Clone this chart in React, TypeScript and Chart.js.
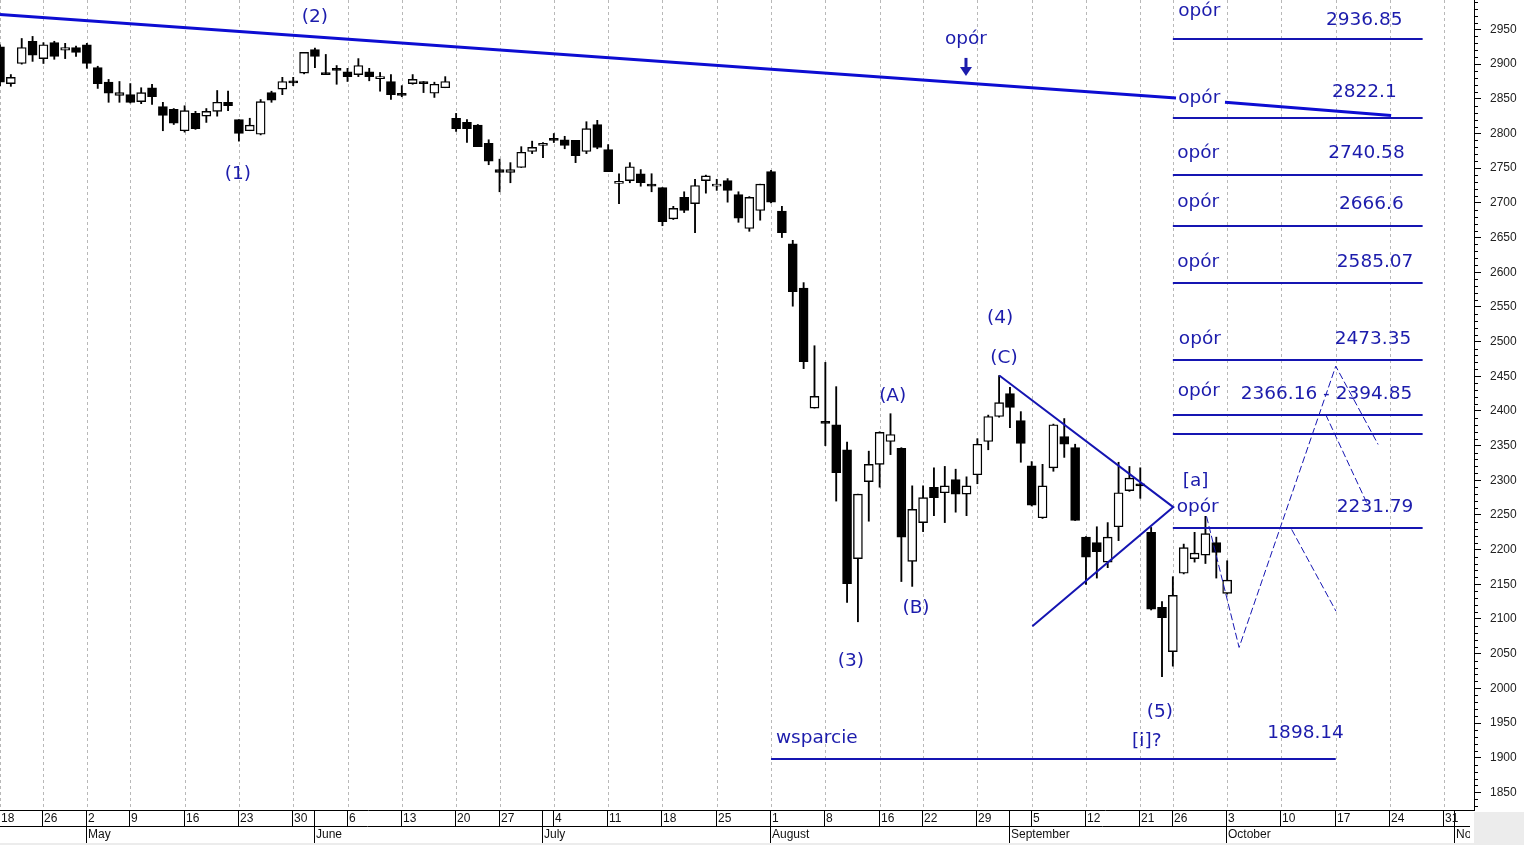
import React, { useEffect, useRef } from 'react';
import { Chart, registerables } from 'chart.js';

Chart.register(...registerables);

// ---- data (trading-day index 0 = 18 April) ----
const opens = [2925,2872,2901,2933,2908,2931,2920,2924,2928,2895,2874,2855,2856,2846,2866,2839,2835,2804,2829,2825,2832,2845,2820,2804,2799,2859,2864,2876,2887,2921,2888,2894,2889,2885,2889,2879,2875,2858,2872,2875,2858,2866,2822,2816,2812,2786,2748,2744,2751,2774,2783,2793,2791,2790,2774,2813,2777,2728,2732,2742,2727,2722,2677,2708,2699,2732,2724,2732,2712,2663,2689,2745,2688,2641,2577,2404,2385,2380,2344,2187,2298,2323,2356,2346,2183,2239,2290,2282,2301,2280,2308,2356,2392,2425,2386,2321,2246,2318,2363,2347,2218,2210,2182,2233,2285,2295,2225,2117,2053,2166,2187,2192,2210,2137];
const highs = [2928,2885,2937,2940,2931,2933,2930,2926,2930,2897,2878,2875,2872,2866,2871,2845,2836,2840,2832,2836,2862,2861,2820,2822,2849,2861,2881,2881,2917,2923,2914,2898,2894,2908,2894,2888,2885,2869,2885,2875,2874,2882,2829,2820,2813,2791,2763,2758,2781,2789,2787,2800,2796,2790,2817,2819,2784,2742,2758,2748,2742,2722,2695,2716,2734,2740,2734,2735,2716,2709,2727,2747,2695,2646,2585,2494,2470,2435,2355,2280,2342,2370,2396,2347,2292,2292,2318,2320,2316,2305,2360,2394,2451,2434,2399,2327,2323,2381,2389,2352,2219,2233,2239,2326,2320,2318,2232,2125,2161,2208,2225,2248,2218,2184];
const lows = [2869,2868,2900,2904,2901,2907,2908,2911,2894,2865,2845,2845,2844,2843,2842,2804,2813,2802,2806,2816,2825,2833,2789,2804,2798,2845,2856,2869,2886,2895,2886,2871,2875,2882,2876,2861,2849,2853,2871,2859,2852,2866,2803,2787,2781,2755,2716,2729,2751,2771,2765,2787,2778,2758,2771,2778,2745,2699,2729,2724,2716,2667,2676,2686,2657,2714,2718,2701,2672,2659,2675,2700,2650,2551,2461,2404,2350,2270,2124,2096,2241,2290,2337,2154,2147,2226,2249,2239,2254,2249,2295,2344,2391,2376,2326,2263,2245,2313,2333,2242,2150,2159,2174,2213,2284,2274,2113,2017,2032,2165,2182,2180,2159,2136];
const closes = [2874,2881,2924,2913,2928,2911,2924,2917,2901,2872,2858,2859,2845,2859,2853,2826,2815,2833,2807,2832,2845,2840,2800,2812,2846,2848,2875,2873,2917,2911,2885,2891,2882,2898,2882,2882,2856,2855,2878,2872,2871,2875,2807,2807,2781,2760,2744,2748,2773,2780,2786,2790,2783,2768,2807,2780,2745,2731,2752,2729,2724,2673,2692,2689,2725,2739,2727,2718,2678,2708,2727,2701,2657,2572,2471,2421,2382,2311,2151,2280,2323,2369,2366,2218,2258,2275,2275,2292,2280,2292,2352,2392,2412,2405,2353,2264,2292,2380,2352,2242,2189,2197,2218,2282,2303,2292,2114,2102,2134,2203,2195,2223,2196,2156];

// x-axis labels
const weekTickIdx = [0,4,8,12,17,22,27,32,37,42,46,51,56,61,66,71,76,81,85,90,95,100,105,108,113,118,123,128,133];
const weekTickLabels = ['18','26','2','9','16','23','30','6','13','20','27','4','11','18','25','1','8','16','22','29','5','12','21','26','3','10','17','24','31'];
const monthIdx = [8,29,50,71,93,113,134];
const monthLabels = ['May','June','July','August','September','October','November'];

// y-axis ticks
const yTicks = [1850,1900,1950,2000,2050,2100,2150,2200,2250,2300,2350,2400,2450,2500,2550,2600,2650,2700,2750,2800,2850,2900,2950];
const Y_MAX = 2992.5;
const Y_MIN = 1824.6;
const X_MAX = 135.73;

// levels
const resistanceLevels = [2936.85, 2822.1, 2740.58, 2666.6, 2585.07, 2473.35, 2394.85, 2366.16, 2231.79];
const supportLevel = 1898.14;
const levelStartIdx = 108.0;
const levelEndIdx = 131.0;
const supportStartIdx = 71.0;
const supportEndIdx = 123.0;

// trend lines [idx, value]
const trendLineA = [[0, 2971.6], [108.29, 2851.2]];
const trendLineB = [[112.8, 2845.2], [128.1, 2826.0]];
const triangle = [[95.06, 2089.7], [108.04, 2261.3], [92.02, 2451.1]];
const projMain = [[111.1, 2248], [114.1, 2059], [123.0, 2464.5], [126.9, 2351.7]];
const projAlt1 = [[122.07, 2394.9], [125.85, 2267.6]];
const projAlt2 = [[118.94, 2229.1], [123.02, 2111.3]];
const arrowAt = [88.95, 2909, 2883];

// text annotations: [text, idx, value, align]
const texts: [string, number, number, CanvasTextAlign][] = [
  ['(2)', 29.0, 2967, 'center'],
  ['(1)', 21.9, 2741, 'center'],
  ['opór', 88.95, 2936, 'center'],
  ['(4)', 92.1, 2533, 'center'],
  ['(C)', 92.45, 2476, 'center'],
  ['(A)', 82.2, 2421, 'center'],
  ['(B)', 84.35, 2115, 'center'],
  ['(3)', 78.35, 2039, 'center'],
  ['(5)', 106.8, 1966, 'center'],
  ['[i]?', 105.6, 1924, 'center'],
  ['wsparcie', 71.45, 1928, 'left'],
  ['1898.14', 116.7, 1935, 'left'],
  ['[a]', 110.1, 2298, 'center'],
  ['opór', 108.5, 2977, 'left'],
  ['opór', 108.5, 2851, 'left'],
  ['opór', 108.4, 2772, 'left'],
  ['opór', 108.4, 2701, 'left'],
  ['opór', 108.4, 2614, 'left'],
  ['opór', 108.55, 2503, 'left'],
  ['opór', 108.45, 2428, 'left'],
  ['opór', 108.35, 2261, 'left'],
  ['2936.85', 122.1, 2964, 'left'],
  ['2822.1', 122.65, 2859, 'left'],
  ['2740.58', 122.3, 2772, 'left'],
  ['2666.6', 123.3, 2698, 'left'],
  ['2585.07', 123.1, 2614, 'left'],
  ['2473.35', 122.9, 2503, 'left'],
  ['2366.16 - 2394.85', 114.25, 2424, 'left'],
  ['2231.79', 123.1, 2261, 'left'],
];

const TEXT_BLUE = '#1c1cac';
const LINE_BLUE = '#1515b2';
const TREND_BLUE = '#0d0dd2';

const overlayPlugin = {
  id: 'overlay',
  beforeDatasetsDraw(chart: any) {
    const { ctx, scales, chartArea } = chart;
    const x = scales.x;
    ctx.save();
    ctx.strokeStyle = '#b8b8b8';
    ctx.lineWidth = 1;
    ctx.setLineDash([3, 3]);
    for (const i of weekTickIdx) {
      const px = Math.round(x.getPixelForValue(i)) + 0.5;
      ctx.beginPath();
      ctx.moveTo(px, chartArea.top);
      ctx.lineTo(px, chartArea.bottom);
      ctx.stroke();
    }
    ctx.restore();
  },
  afterDatasetsDraw(chart: any) {
    const { ctx, scales, chartArea } = chart;
    const x = scales.x, y = scales.y;
    const px = (i: number) => x.getPixelForValue(i);
    const py = (v: number) => y.getPixelForValue(v);
    ctx.save();
    ctx.beginPath();
    ctx.rect(chartArea.left, chartArea.top, chartArea.width, chartArea.height);
    ctx.clip();

    const poly = (pts: number[][], color: string, w: number, dash: number[]) => {
      ctx.strokeStyle = color;
      ctx.lineWidth = w;
      ctx.setLineDash(dash);
      ctx.beginPath();
      pts.forEach((p, k) => (k === 0 ? ctx.moveTo(px(p[0]), py(p[1])) : ctx.lineTo(px(p[0]), py(p[1]))));
      ctx.stroke();
    };

    poly(trendLineA, TREND_BLUE, 3, []);
    poly(trendLineB, TREND_BLUE, 3, []);
    for (const lv of resistanceLevels) {
      const yy = Math.round(py(lv));
      poly([[levelStartIdx, y.getValueForPixel(yy)], [levelEndIdx, y.getValueForPixel(yy)]], LINE_BLUE, 2, []);
    }
    {
      const yy = Math.round(py(supportLevel));
      poly([[supportStartIdx, y.getValueForPixel(yy)], [supportEndIdx, y.getValueForPixel(yy)]], LINE_BLUE, 2, []);
    }
    poly(triangle, LINE_BLUE, 2, []);
    poly(projMain, LINE_BLUE, 1, [7, 3]);
    poly(projAlt1, LINE_BLUE, 1, [7, 3]);
    poly(projAlt2, LINE_BLUE, 1, [7, 3]);

    {
      const ax = px(arrowAt[0]);
      const y0 = py(arrowAt[1]);
      const y1 = py(arrowAt[2]);
      ctx.setLineDash([]);
      ctx.fillStyle = TEXT_BLUE;
      ctx.fillRect(ax - 1.5, y0, 3, (y1 - y0) * 0.55);
      ctx.beginPath();
      ctx.moveTo(ax - 6, y0 + (y1 - y0) * 0.5);
      ctx.lineTo(ax + 6, y0 + (y1 - y0) * 0.5);
      ctx.lineTo(ax, y1);
      ctx.closePath();
      ctx.fill();
    }

    ctx.setLineDash([]);
    ctx.fillStyle = TEXT_BLUE;
    ctx.font = '18.5px "DejaVu Sans", Verdana, sans-serif';
    ctx.textBaseline = 'middle';
    for (const [t, i, v, al] of texts) {
      ctx.textAlign = al;
      ctx.fillText(t, px(i), py(v));
    }
    ctx.restore();
  },
  afterDraw(chart: any) {
    const { ctx, scales, chartArea, width, height } = chart;
    const x = scales.x, y = scales.y;
    ctx.save();
    ctx.strokeStyle = '#000';
    ctx.lineWidth = 1;
    for (let v = 1830; v <= 2990; v += 10) {
      if (v % 50 === 0) continue;
      const yy = Math.round(y.getPixelForValue(v)) + 0.5;
      ctx.beginPath();
      ctx.moveTo(chartArea.right, yy);
      ctx.lineTo(chartArea.right + 4, yy);
      ctx.stroke();
    }
    const top = chartArea.bottom;
    const mid = top + 16;
    const bot = top + 33;
    const right = chartArea.right;
    ctx.fillStyle = '#ffffff';
    ctx.fillRect(0, top, right, bot - top);
    ctx.fillStyle = '#ececec';
    ctx.fillRect(right, top + 2, width - right, height - top);
    ctx.fillRect(0, bot, width, height - bot);

    ctx.strokeStyle = '#000';
    ctx.lineWidth = 1;
    ctx.beginPath();
    ctx.moveTo(0, top + 0.5); ctx.lineTo(right, top + 0.5);
    ctx.moveTo(0, mid + 0.5); ctx.lineTo(right - 4, mid + 0.5);
    ctx.stroke();

    ctx.beginPath();
    ctx.rect(0, top, right - 4, bot - top);
    ctx.clip();

    const sepsDay = Array.from(new Set([...weekTickIdx, ...monthIdx]));
    ctx.beginPath();
    for (const i of sepsDay) {
      const p = Math.round(x.getPixelForValue(i)) - 0.5;
      ctx.moveTo(p, top); ctx.lineTo(p, mid);
    }
    for (const i of monthIdx) {
      const p = Math.round(x.getPixelForValue(i)) - 0.5;
      ctx.moveTo(p, mid); ctx.lineTo(p, bot);
    }
    ctx.stroke();

    ctx.fillStyle = '#111';
    ctx.font = '12px "Liberation Sans", Arial, sans-serif';
    ctx.textBaseline = 'middle';
    ctx.textAlign = 'left';
    weekTickIdx.forEach((i, k) => {
      ctx.fillText(weekTickLabels[k], Math.round(x.getPixelForValue(i)) + 1, top + 9);
    });
    monthIdx.forEach((i, k) => {
      ctx.fillText(monthLabels[k], Math.round(x.getPixelForValue(i)) + 1, mid + 9);
    });
    ctx.restore();
  },
};

export default function App() {
  const ref = useRef<HTMLCanvasElement | null>(null);
  useEffect(() => {
    document.body.style.margin = '0';
    const canvas = ref.current;
    if (!canvas) return;
    const wicks = opens.map((_, i) => ({ x: i, y: [lows[i], highs[i]] }));
    const bodies = opens.map((o, i) => ({ x: i, y: [o, closes[i]] }));
    const chart = new Chart(canvas, {
      type: 'bar',
      data: {
        datasets: [
          {
            label: 'wick',
            data: wicks as any,
            backgroundColor: '#000',
            barThickness: 1.2,
            grouped: false,
            order: 2,
          } as any,
          {
            label: 'body',
            data: bodies as any,
            backgroundColor: (c: any) => {
              const i = c.dataIndex;
              return closes[i] < opens[i] ? '#000' : '#fff';
            },
            borderColor: '#000',
            borderWidth: 1.4,
            borderSkipped: false,
            barThickness: 9,
            minBarLength: 2,
            grouped: false,
            order: 1,
          } as any,
        ],
      },
      plugins: [overlayPlugin],
      options: {
        responsive: false,
        animation: false,
        devicePixelRatio: 1,
        events: [],
        layout: { padding: { left: 0, right: 0, top: 0, bottom: 35 } },
        plugins: { legend: { display: false }, tooltip: { enabled: false } },
        scales: {
          x: {
            type: 'linear',
            display: false,
            min: 0,
            max: X_MAX,
            offset: false,
          },
          y: {
            type: 'linear',
            position: 'right',
            min: Y_MIN,
            max: Y_MAX,
            afterBuildTicks: (s: any) => {
              s.ticks = yTicks.map((v) => ({ value: v }));
            },
            afterFit: (s: any) => {
              s.width = 50;
              s.paddingTop = 0;
              s.paddingBottom = 0;
            },
            ticks: {
              autoSkip: false,
              padding: 9,
              color: '#222',
              font: { family: '"Liberation Sans", Arial, sans-serif', size: 12 },
              callback: (v: any) => String(v),
            },
            grid: { drawOnChartArea: false, tickLength: 7, color: '#000', lineWidth: 1 },
            border: { color: '#000', width: 1 },
          },
        },
      } as any,
    });
    return () => chart.destroy();
  }, []);
  return (
    <div style={{ position: 'absolute', left: 0, top: 0, width: 1524, height: 845, background: '#fff' }}>
      <canvas ref={ref} width={1524} height={845} />
    </div>
  );
}
